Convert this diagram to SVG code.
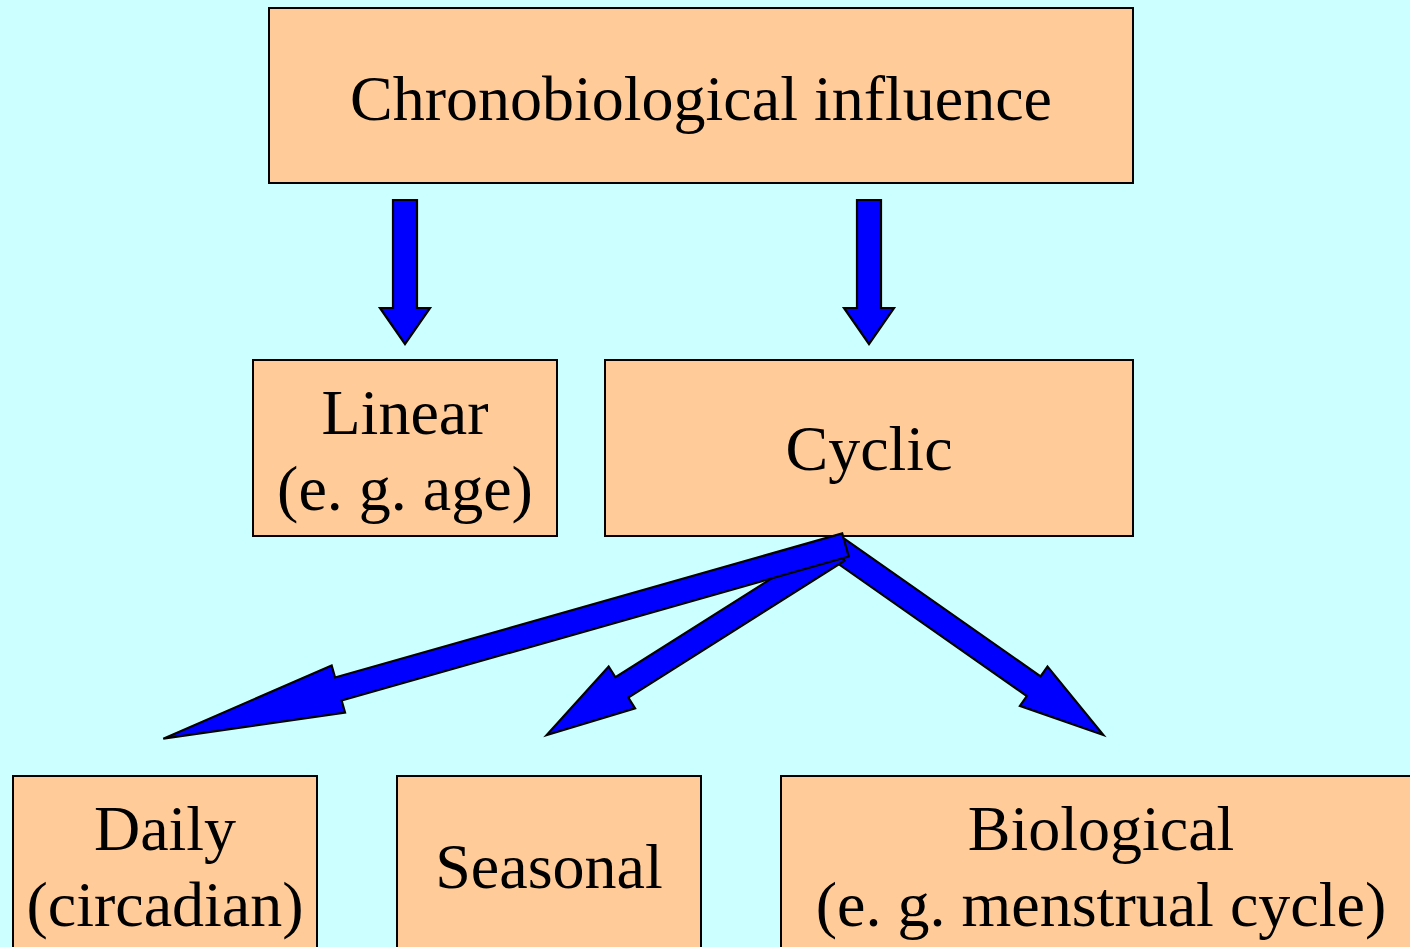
<svg xmlns="http://www.w3.org/2000/svg" width="1410" height="947" viewBox="0 0 1410 947">
  <style>
    .box { fill: #FFCC99; stroke: #000000; stroke-width: 2; }
    .lbl { font-family: "Liberation Serif", "Times New Roman", serif; font-size: 64px; fill: #000000; text-anchor: middle; }
    .title { font-size: 64px; }
    .arr { fill: #0000FF; stroke: #000000; stroke-width: 2.2; stroke-linejoin: miter; }
  </style>
  <rect x="0" y="0" width="1410" height="947" fill="#CCFFFF"/>

  <g id="node-chrono">
    <rect class="box" x="269" y="8" width="864" height="175"/>
    <text class="lbl title" x="701" y="120">Chronobiological influence</text>
  </g>
  <g id="node-linear">
    <rect class="box" x="253" y="360" width="304" height="176"/>
    <text class="lbl" x="405" y="434">Linear</text>
    <text class="lbl" x="405" y="510">(e. g. age)</text>
  </g>
  <g id="node-cyclic">
    <rect class="box" x="605" y="360" width="528" height="176"/>
    <text class="lbl" x="869" y="470">Cyclic</text>
  </g>
  <g id="node-daily">
    <rect class="box" x="13" y="776" width="304" height="200"/>
    <text class="lbl" x="165" y="850">Daily</text>
    <text class="lbl" x="165" y="926">(circadian)</text>
  </g>
  <g id="node-seasonal">
    <rect class="box" x="397" y="776" width="304" height="200"/>
    <text class="lbl" x="549" y="888">Seasonal</text>
  </g>
  <g id="node-biological">
    <rect class="box" x="781" y="776" width="640" height="200"/>
    <text class="lbl" x="1101" y="850">Biological</text>
    <text class="lbl" x="1101" y="926">(e. g. menstrual cycle)</text>
  </g>

  <g id="connectors">
    <polygon class="arr" points="393,200 417,200 417,308 430,308 405,344 380,308 393,308"/>
    <polygon class="arr" points="857,200 881,200 881,308 894,308 869,344 844,308 857,308"/>
    <polygon class="arr" transform="translate(838,549) rotate(35.03)" points="0,-12 239,-12 239,-24 324,0 239,24 239,12 0,12"/>
    <polygon class="arr" transform="translate(838,550.6) rotate(147.66)" points="0,-12 255.8,-12 255.8,-24.7 344.8,0 255.8,24.7 255.8,12 0,12"/>
    <polygon class="arr" transform="translate(845.5,545) rotate(164.15)" points="0,-12 527.2,-12 527.2,-24.5 709.2,0 527.2,24.5 527.2,12 0,12"/>
  </g>
</svg>
